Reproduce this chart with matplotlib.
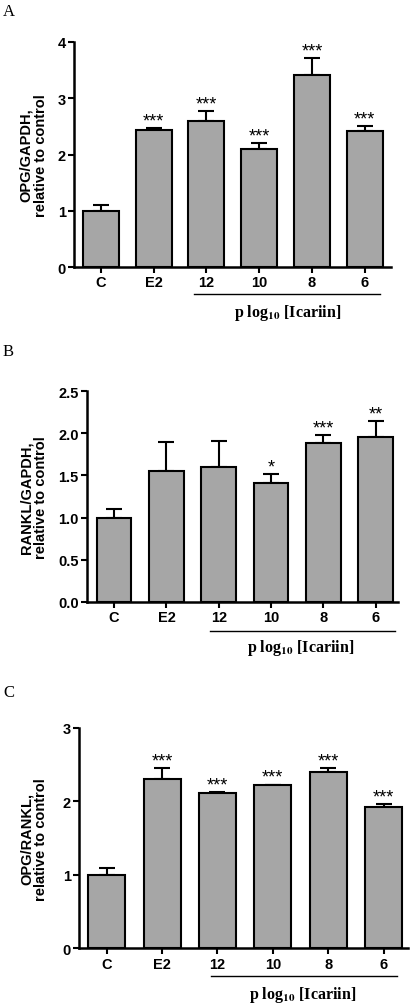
import matplotlib
matplotlib.use("Agg")
import matplotlib.pyplot as plt
import matplotlib.transforms as mtransforms

plt.rcParams['font.family'] = ['Liberation Sans', 'DejaVu Sans']

categories = ["C", "E2", "12", "10", "8", "6"]

opg_gapdh = [1.00, 2.44, 2.59, 2.10, 3.42, 2.41]
opg_gapdh_err = [0.10, 0.03, 0.18, 0.11, 0.30, 0.10]
opg_gapdh_sig = ["", "***", "***", "***", "***", "***"]

rankl_gapdh = [1.00, 1.55, 1.60, 1.41, 1.88, 1.96]
rankl_gapdh_err = [0.10, 0.35, 0.31, 0.11, 0.10, 0.19]
rankl_gapdh_sig = ["", "", "", "*", "***", "**"]

opg_rankl = [1.00, 2.30, 2.12, 2.23, 2.40, 1.92]
opg_rankl_err = [0.09, 0.15, 0.01, 0.00, 0.06, 0.05]
opg_rankl_sig = ["", "***", "***", "***", "***", "***"]

W, H = 412, 1004
fig = plt.figure(figsize=(W / 100, H / 100), dpi=100)

panels = [
    dict(letter="A", letter_y=12, vals=opg_gapdh, err=opg_gapdh_err, sig=opg_gapdh_sig,
         ylabel="OPG/GAPDH,\nrelative to control",
         rect=(74, 43, 391, 268), ylim=(0, 4), yticks=[0, 1, 2, 3, 4], fmt="{:.0f}",
         xlim=(-0.51, 5.5), bw=0.68, ul=(1.76, 5.29), uly=-0.12, lbly=-0.20, lblx=3.53,
         ylx=-0.083),
    dict(letter="B", letter_y=352, vals=rankl_gapdh, err=rankl_gapdh_err, sig=rankl_gapdh_sig,
         ylabel="RANKL/GAPDH,\nrelative to control",
         rect=(87, 392.3, 398, 602.7), ylim=(0, 2.5), yticks=[0, 0.5, 1.0, 1.5, 2.0, 2.5], fmt="{:.1f}",
         xlim=(-0.52, 5.43), bw=0.66, ul=(1.84, 5.37), uly=-0.139, lbly=-0.216, lblx=3.57,
         ylx=-0.126),
    dict(letter="C", letter_y=693, vals=opg_rankl, err=opg_rankl_err, sig=opg_rankl_sig,
         ylabel="OPG/RANKL,\nrelative to control",
         rect=(79, 729, 408, 949.3), ylim=(0, 3), yticks=[0, 1, 2, 3], fmt="{:.0f}",
         xlim=(-0.50, 5.44), bw=0.67, ul=(1.89, 5.24), uly=-0.126, lbly=-0.207, lblx=3.53,
         ylx=-0.094),
]

for p in panels:
    x0, y0, x1, y1 = p["rect"]
    ax = fig.add_axes([x0 / W, 1 - y1 / H, (x1 - x0) / W, (y1 - y0) / H])
    xs = list(range(len(categories)))
    ax.bar(xs, p["vals"], width=p["bw"], color="#a6a6a6", edgecolor="black",
           linewidth=1.5, zorder=2)
    # upward-only error bars
    ax.errorbar(xs, p["vals"], yerr=[[0] * len(xs), p["err"]], fmt="none",
                ecolor="black", elinewidth=1.5, capsize=6, capthick=1.5, zorder=1)
    for x, v, e, s in zip(xs, p["vals"], p["err"], p["sig"]):
        if s:
            ax.annotate(s, (x, v + e), xytext=(0, -1), textcoords="offset points",
                        ha="center", va="bottom", fontsize=13)
    ax.set_xlim(*p["xlim"])
    ax.set_ylim(*p["ylim"])
    ax.set_yticks(p["yticks"])
    ax.set_yticklabels([p["fmt"].format(t) for t in p["yticks"]],
                       fontsize=10.5, fontweight="bold")
    ax.set_xticks(xs)
    ax.set_xticklabels(categories, fontsize=10.5, fontweight="bold")
    ax.tick_params(axis="both", length=4, width=1.5, pad=2, direction="out")
    for side in ("top", "right"):
        ax.spines[side].set_visible(False)
    for side in ("left", "bottom"):
        ax.spines[side].set_linewidth(1.8)
    ax.set_ylabel(p["ylabel"], fontsize=10.5, fontweight="bold", linespacing=1.05)
    ax.yaxis.set_label_coords(p["ylx"], 0.5)
    trans = mtransforms.blended_transform_factory(ax.transData, ax.transAxes)
    ax.plot(list(p["ul"]), [p["uly"], p["uly"]], color="black", lw=1.0,
            transform=trans, clip_on=False)
    ax.text(p["lblx"], p["lbly"], r"p log$_{\mathbf{10}}$ [Icariin]", transform=trans,
            ha="center", va="center", fontsize=11.5, fontweight="bold",
            family="Liberation Serif", math_fontfamily="stix")
    fig.text(3 / W, 1 - p["letter_y"] / H, p["letter"], family="Liberation Serif",
             fontsize=12, ha="left", va="center")

fig.savefig("out.png", dpi=100)
